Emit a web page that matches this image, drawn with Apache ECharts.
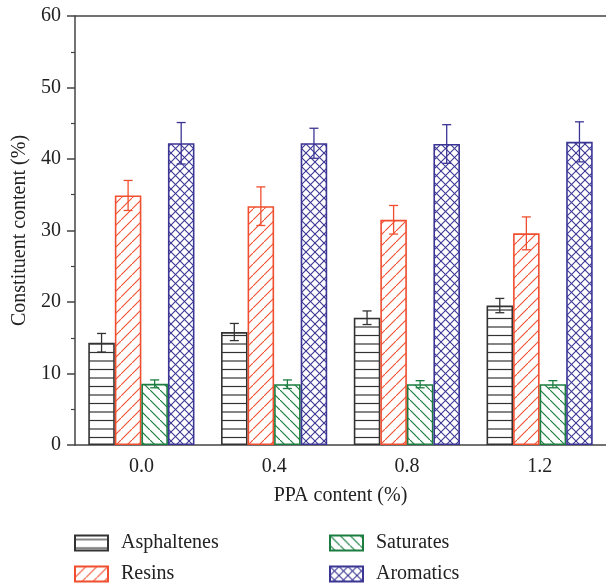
<!DOCTYPE html>
<html style="height: 100%">
<head>
    <meta charset="utf-8">
    <title>PPA content</title>
</head>
<body style="height: 100%; margin: 0">
<div id="container" style="height:588px;width:606px"></div>
<script src="https://cdn.jsdelivr.net/npm/echarts@6/dist/echarts.min.js"></script>
<script type="text/javascript">
    // data
    var categories = ['0.0', '0.4', '0.8', '1.2'];
    var seriesNames = ['Asphaltenes', 'Resins', 'Saturates', 'Aromatics'];
    var asphaltenes = [14.3, 15.8, 17.8, 19.5];
    var asphaltenesErr = [1.3, 1.2, 0.95, 1.0];
    var resins = [34.9, 33.4, 31.5, 29.6];
    var resinsErr = [2.1, 2.7, 2.0, 2.3];
    var saturates = [8.55, 8.5, 8.5, 8.5];
    var saturatesErr = [0.55, 0.6, 0.5, 0.5];
    var aromatics = [42.2, 42.2, 42.1, 42.4];
    var aromaticsErr = [2.9, 2.1, 2.7, 2.8];
    var yTicks = {min: 0, max: 60, interval: 10};

    var colors = ['#333333', '#f04e2e', '#1b7d3f', '#3b3594'];
    var font = 'Liberation Serif';

    // hatch patterns
    function makeTile(w, h, draw) {
        var c = document.createElement('canvas');
        c.width = w; c.height = h;
        var ctx = c.getContext('2d');
        ctx.fillStyle = '#ffffff';
        ctx.fillRect(0, 0, w, h);
        draw(ctx, w, h);
        return {image: c, repeat: 'repeat'};
    }
    function seg(ctx, x1, y1, x2, y2) {
        ctx.beginPath(); ctx.moveTo(x1, y1); ctx.lineTo(x2, y2); ctx.stroke();
    }
    var patterns = [
        makeTile(17, 17, function (ctx, w, h) {
            ctx.strokeStyle = colors[0]; ctx.lineWidth = 1.2;
            seg(ctx, 0, 4, w, 4);
            seg(ctx, 0, 12.5, w, 12.5);
        }),
        makeTile(11, 11, function (ctx, w, h) {
            ctx.strokeStyle = colors[1]; ctx.lineWidth = 1.1;
            seg(ctx, -1, h + 1, w + 1, -1);
            seg(ctx, -2, 1, 1, -2);
            seg(ctx, w - 1, h + 2, w + 2, h - 1);
        }),
        makeTile(10, 10, function (ctx, w, h) {
            ctx.strokeStyle = colors[2]; ctx.lineWidth = 1.2;
            seg(ctx, -1, -1, w + 1, h + 1);
            seg(ctx, -2, h - 1, 1, h + 2);
            seg(ctx, w - 1, -2, w + 2, 1);
        }),
        makeTile(9, 9, function (ctx, w, h) {
            ctx.strokeStyle = colors[3]; ctx.lineWidth = 1.1;
            seg(ctx, -1, -1, w + 1, h + 1);
            seg(ctx, -1, h + 1, w + 1, -1);
        })
    ];

    var values = [asphaltenes, resins, saturates, aromatics];
    var errors = [asphaltenesErr, resinsErr, saturatesErr, aromaticsErr];

    function errRender(idx, color) {
        return function (params, api) {
            var x = api.value(0), v = api.value(1), e = api.value(2);
            var band = api.size([1, 0])[0];
            var bw = band * 0.8 / 4;
            var hi = api.coord([x, v + e]);
            var lo = api.coord([x, v - e]);
            var cx = hi[0] + (idx - 1.5) * bw;
            var hw = 4.5;
            var st = {stroke: color, lineWidth: 1.3};
            return {
                type: 'group',
                children: [
                    {type: 'line', shape: {x1: cx, y1: hi[1], x2: cx, y2: lo[1]}, style: st},
                    {type: 'line', shape: {x1: cx - hw, y1: hi[1], x2: cx + hw, y2: hi[1]}, style: st},
                    {type: 'line', shape: {x1: cx - hw, y1: lo[1], x2: cx + hw, y2: lo[1]}, style: st}
                ]
            };
        };
    }

    var series = [];
    for (var i = 0; i < 4; i++) {
        series.push({
            name: seriesNames[i],
            type: 'bar',
            data: values[i],
            barGap: 0,
            barCategoryGap: '20%',
            itemStyle: {color: patterns[i], borderColor: colors[i], borderWidth: 1.6}
        });
    }
    for (var j = 0; j < 4; j++) {
        var d = [];
        for (var k = 0; k < categories.length; k++) d.push([k, values[j][k], errors[j][k]]);
        series.push({
            type: 'custom',
            renderItem: errRender(j, colors[j]),
            data: d,
            z: 5,
            silent: true
        });
    }

    var legendText = {fontFamily: font, fontSize: 20, lineHeight: 20, color: '#222', padding: [0, 0, 0, 8]};

    var dom = document.getElementById('container');
    var myChart = echarts.init(dom);
    myChart.setOption({
        animation: false,
        textStyle: {fontFamily: font},
        grid: {left: 75, right: -2, top: 16, bottom: 143},
        legend: [
            {
                data: ['Asphaltenes', 'Resins'],
                orient: 'vertical', left: 74, top: 533, height: 55, padding: 0,
                icon: 'rect', itemWidth: 33, itemHeight: 15, itemGap: 11,
                textStyle: legendText
            },
            {
                data: ['Saturates', 'Aromatics'],
                orient: 'vertical', left: 329, top: 533, height: 55, padding: 0,
                icon: 'rect', itemWidth: 33, itemHeight: 15, itemGap: 11,
                textStyle: legendText
            }
        ],
        xAxis: [
            {
                type: 'category',
                data: categories,
                name: 'PPA content (%)',
                nameLocation: 'middle',
                nameGap: 41,
                nameTextStyle: {fontFamily: font, fontSize: 20, color: '#222'},
                axisLine: {lineStyle: {color: '#444', width: 1.5}},
                axisTick: {alignWithLabel: true, length: 8, lineStyle: {color: '#444', width: 1.5}},
                axisLabel: {fontFamily: font, fontSize: 20, color: '#222', margin: 12}
            },
            {
                type: 'category',
                data: categories,
                position: 'top',
                axisLine: {lineStyle: {color: '#444', width: 1.5}},
                axisTick: {show: false},
                axisLabel: {show: false}
            }
        ],
        yAxis: {
            type: 'value',
            min: yTicks.min,
            max: yTicks.max,
            interval: yTicks.interval,
            name: 'Constituent content (%)',
            nameLocation: 'middle',
            nameGap: 44,
            nameTextStyle: {fontFamily: font, fontSize: 20, color: '#222'},
            axisLine: {show: true, lineStyle: {color: '#444', width: 1.5}},
            axisTick: {show: true, length: 8, lineStyle: {color: '#444', width: 1.5}},
            minorTick: {show: true, splitNumber: 2, length: 4, lineStyle: {color: '#444', width: 1.2}},
            splitLine: {show: false},
            axisLabel: {fontFamily: font, fontSize: 20, color: '#222', margin: 14}
        },
        series: series
    });
</script>
</body>
</html>
